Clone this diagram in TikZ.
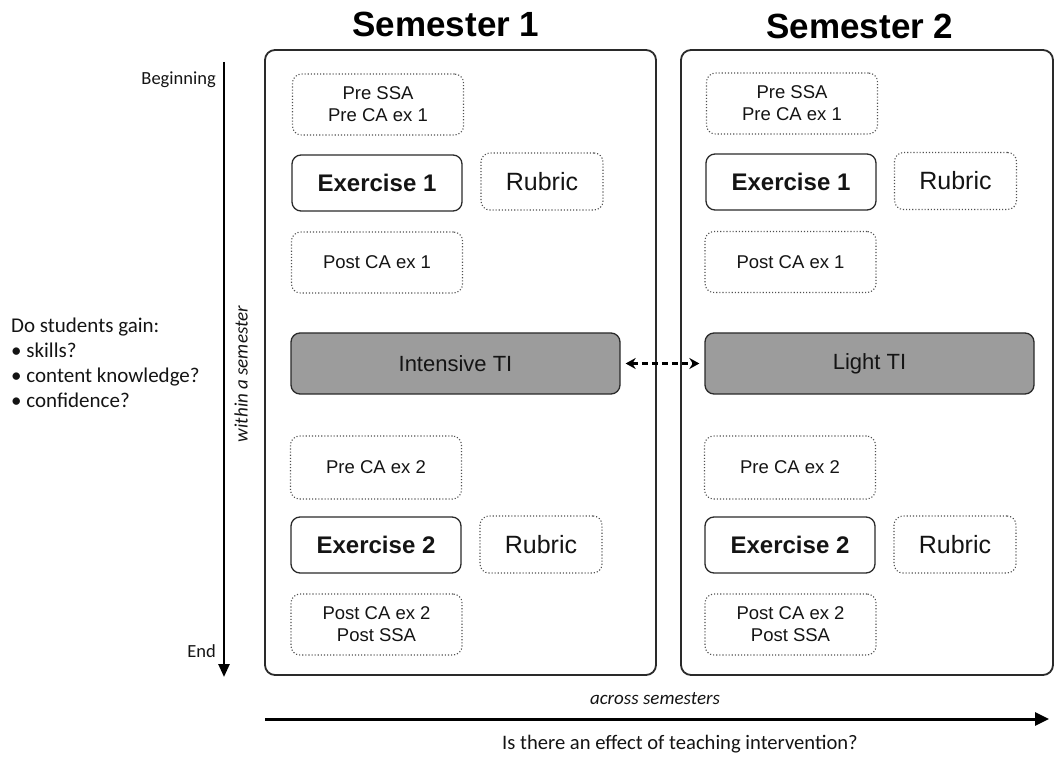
\documentclass[tikz,border=0pt]{standalone}
\usepackage{fontspec}
\setmainfont{Liberation Sans}
\newfontfamily\calfont{Carlito}
\usetikzlibrary{arrows.meta}
\definecolor{tifill}{HTML}{9C9C9C}
\definecolor{edge}{HTML}{2A2A2A}
\definecolor{dotc}{HTML}{505050}
\definecolor{txt}{HTML}{141414}
\tikzset{
  sembox/.style={draw=edge, line width=1.8pt, rounded corners=10pt, rectangle, inner sep=0pt, minimum width=#1, minimum height=625pt},
  dotbox/.style={draw=dotc, dotted, line width=1.1pt, rounded corners=9pt, rectangle, inner sep=0pt, minimum width=171pt, minimum height=61pt, align=center, text=txt, font=\fontsize{18.5}{22}\selectfont},
  rubbox/.style={dotbox, minimum width=122pt, minimum height=57pt, font=\fontsize{25}{28}\selectfont},
  exbox/.style={draw=edge, line width=1.3pt, rounded corners=9pt, rectangle, inner sep=0pt, minimum width=170pt, minimum height=56pt, text=txt, font=\bfseries\fontsize{24}{28}\selectfont},
  tibox/.style={draw=edge, line width=1.3pt, fill=tifill, rounded corners=9pt, rectangle, inner sep=0pt, minimum width=329pt, minimum height=61pt, text=txt, font=\fontsize{22}{26}\selectfont},
  semtitle/.style={font=\bfseries\fontsize{35}{40}\selectfont, text=black, inner sep=0pt},
  caltext/.style={font=\calfont\fontsize{18.5}{20.7}\selectfont, text=txt, inner sep=0pt},
  calit/.style={font=\calfont\itshape\fontsize{19}{22}\selectfont, text=txt, inner sep=0pt},
}
\begin{document}
\begin{tikzpicture}[x=1pt,y=-1pt]
\useasboundingbox (0,0) rectangle (1055,759);
% titles
\node[semtitle] (t1) at (446,24) {Semester 1};
\node[semtitle] (t2) at (860,26) {Semester 2};
% semester boxes
\node[sembox=391pt] (s1) at (460.5,362.5) {};
\node[sembox=372pt] (s2) at (867,362.5) {};
% semester 1
\node[dotbox] (pre1) at (378,104.5) {Pre SSA\\Pre CA ex 1};
\node[exbox] (ex1) at (377,183) {Exercise 1};
\node[rubbox] (rub1) at (542,181.5) {Rubric};
\node[dotbox] (post1) at (377,262.5) {Post CA ex 1};
\node[tibox] (iti) at (455.5,363.5) {Intensive TI};
\node[dotbox, minimum height=63pt] (pre2) at (376,467.5) {Pre CA ex 2};
\node[exbox] (ex2) at (376,545) {Exercise 2};
\node[rubbox] (rub2) at (541,544.5) {Rubric};
\node[dotbox] (post2) at (376.5,624.5) {Post CA ex 2\\Post SSA};
% semester 2
\node[dotbox] (pre1b) at (792,103.5) {Pre SSA\\Pre CA ex 1};
\node[exbox] (ex1b) at (791,182) {Exercise 1};
\node[rubbox] (rub1b) at (955.5,181) {Rubric};
\node[dotbox] (post1b) at (790.5,262) {Post CA ex 1};
\node[tibox] (lti) at (869.5,363.5) {Light TI};
\node[dotbox, minimum height=63pt] (pre2b) at (790,467.5) {Pre CA ex 2};
\node[exbox] (ex2b) at (790,545) {Exercise 2};
\node[rubbox] (rub2b) at (955,544.5) {Rubric};
\node[dotbox] (post2b) at (790.5,624.5) {Post CA ex 2\\Post SSA};
% dashed double arrow
\draw[line width=2.4pt, dash pattern=on 6pt off 4pt, {Stealth[length=10pt,width=11pt]}-{Stealth[length=10pt,width=11pt]}, shorten <=5pt, shorten >=5pt] (iti.east) -- (lti.west);
% vertical axis
\coordinate (vtop) at (224,62);
\coordinate (vbot) at (224,677);
\draw[line width=2.6pt, -{Triangle[length=13pt,width=11pt]}] (vtop) -- (vbot);
\node[caltext, anchor=east] (beg) at (216,80) {Beginning};
\node[caltext, anchor=east] (end) at (216,651) {End};
\node[calit, rotate=90] (within) at (241,374) {within a semester};
\node[font=\calfont\fontsize{21}{25}\selectfont, text=txt, inner sep=0pt, anchor=west, align=left] (q1) at (11,363) {Do students gain:\\\textbullet\ skills?\\\textbullet\ content knowledge?\\\textbullet\ confidence?};
% horizontal axis
\coordinate (hl) at (265,719);
\coordinate (hr) at (1049,719);
\draw[line width=3pt, -{Triangle[length=14pt,width=13pt]}] (hl) -- (hr);
\node[calit] (across) at (655,699) {across semesters};
\node[font=\calfont\fontsize{20.6}{24}\selectfont, text=txt, inner sep=0pt] (q2) at (680,744) {Is there an effect of teaching intervention?};
\end{tikzpicture}
\end{document}
